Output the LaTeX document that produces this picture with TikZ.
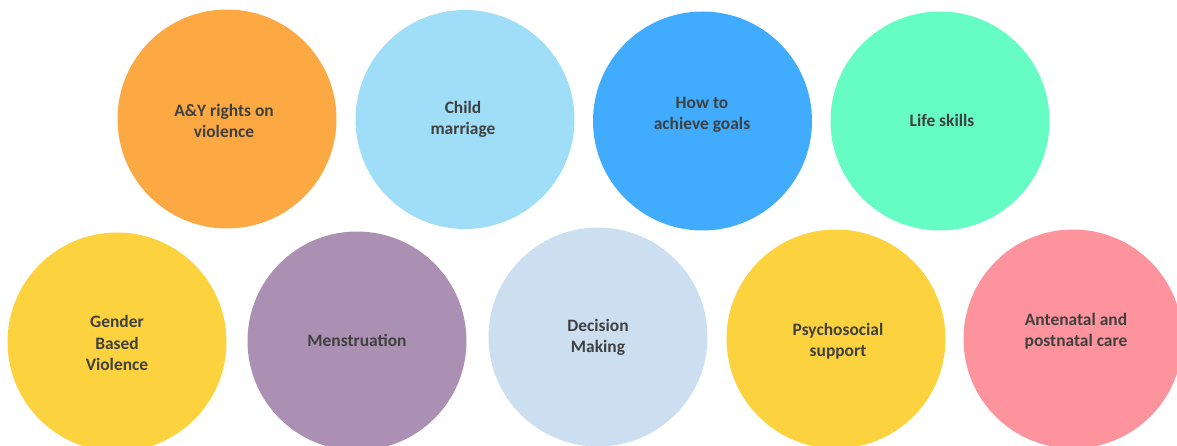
\documentclass[tikz,border=0pt]{standalone}
\usepackage{fontspec}
\setmainfont{Carlito}
\definecolor{cOrange}{HTML}{FCA944}
\definecolor{cSky}{HTML}{A0DEF8}
\definecolor{cBlue}{HTML}{41ABFD}
\definecolor{cGreen}{HTML}{65FDC4}
\definecolor{cYellow}{HTML}{FDD23F}
\definecolor{cPurple}{HTML}{AB90B3}
\definecolor{cPale}{HTML}{CBDFF0}
\definecolor{cPink}{HTML}{FC939D}
\definecolor{cText}{HTML}{404040}
\begin{document}
\begin{tikzpicture}[x=1bp,y=-1bp,
  bubble/.style={circle,inner sep=0pt,minimum size=219bp,fill=#1},
  caption/.style={align=center,text=cText,font=\fontsize{17.5}{21.5}\selectfont\bfseries,inner sep=0pt}]
\useasboundingbox (0,0) rectangle (1177,446);
% top row
\node[bubble=cOrange] (c1) at (227,119) {};
\node[bubble=cSky]    (c2) at (465,119.5) {};
\node[bubble=cBlue]   (c3) at (702.5,121) {};
\node[bubble=cGreen]  (c4) at (940,121) {};
% bottom row
\node[bubble=cYellow] (c5) at (117,342) {};
\node[bubble=cPurple] (c6) at (357,341) {};
\node[bubble=cPale]   (c7) at (598,337) {};
\node[bubble=cYellow] (c8) at (836,339) {};
\node[bubble=cPink]   (c9) at (1073,339) {};
% captions
\node[caption] (t1) at (224,121) {A\&Y rights on\\violence};
\node[caption] (t2) at (463,119.5) {Child\\marriage};
\node[caption] (t3) at (702,115) {How to\\achieve goals};
\node[caption] (t4) at (942,120) {Life skills};
\node[caption] (t5) at (117,343) {Gender\\Based\\Violence};
\node[caption] (t6) at (357,340) {Menstruation};
\node[caption] (t7) at (598,337.5) {Decision\\Making};
\node[caption] (t8) at (838,341) {Psychosocial\\support};
\node[caption] (t9) at (1076,331) {Antenatal and\\postnatal care};
\end{tikzpicture}
\end{document}
